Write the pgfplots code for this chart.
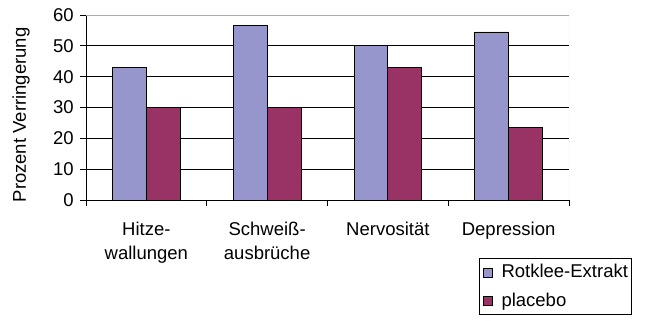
\documentclass[border=0pt]{standalone}
\usepackage{fontspec}
\setmainfont{Liberation Sans}
\usepackage{pgfplots}
\pgfplotsset{compat=1.18}
\definecolor{rotklee}{RGB}{150,150,204}
\definecolor{placebo}{RGB}{153,51,102}
\definecolor{frameblue}{RGB}{165,165,220}
\pgfplotsset{mylegend/.style={legend image code/.code={\draw[##1, draw=black, line width=0.9bp] (2bp,-4.5bp) rectangle (11bp,4.5bp);}}}
\begin{document}
\fontsize{18.5bp}{22bp}\selectfont
\begin{tikzpicture}[x=1bp,y=1bp]
\begin{axis}[
  scale only axis, width=483bp, height=185bp,
  ybar=0pt, bar width=0.28,
  xmin=-0.5, xmax=3.5, ymin=0, ymax=60,
  ytick={0,10,20,30,40,50,60},
  xtick={-0.5,0.5,1.5,2.5,3.5}, xticklabels={},
  extra x ticks={0,1,2,3},
  extra x tick labels={{Hitze-\\wallungen},{Schweiß-\\ausbrüche},{Nervosität},{Depression}},
  extra x tick style={major tick length=0pt, grid=none,
     xticklabel style={align=center, font=\fontsize{18.5bp}{24bp}\selectfont, yshift=-16bp}},
  axis x line*=bottom, axis y line*=left,
  axis line style={black, line width=0.9bp},
  tick align=outside, major tick length=6bp,
  tick style={black, line width=0.9bp},
  ymajorgrids, grid style={black, line width=0.9bp},
  /pgf/number format/assume math mode=true,
  ticklabel style={font=\fontsize{18.5bp}{22bp}\selectfont},
  ylabel={Prozent Verringerung},
  every axis y label/.style={at={(rel axis cs:0,0.46)}, xshift=-65bp, rotate=90, anchor=center,
     font=\fontsize{18.5bp}{22bp}\selectfont},
  legend style={at={(rel axis cs:0.814,-0.3135)}, anchor=north west, draw=black, line width=0.9bp,
     font=\fontsize{18.5bp}{22bp}\selectfont, row sep=8bp, inner xsep=3bp, inner ysep=4bp,
     column sep=2bp},
  legend cell align=left,
  legend style={nodes={inner xsep=0bp}, /tikz/every odd column/.style={column sep=9bp}},
]
\addplot[fill=rotklee, draw=black, line width=0.8bp, mylegend] coordinates {(0,43) (1,56.5) (2,50) (3,54.5)};
\addplot[fill=placebo, draw=black, line width=0.8bp, mylegend] coordinates {(0,30) (1,30) (2,43) (3,23.5)};
\legend{Rotklee-Extrakt, placebo}
\draw[frameblue, line width=1.2bp] (rel axis cs:0,1) -- (rel axis cs:1,1);
\draw[frameblue, line width=1bp, densely dotted] (rel axis cs:1,1) -- (rel axis cs:1,0);
\coordinate (O) at (rel axis cs:0,0);
\end{axis}
\pgfresetboundingbox
\useasboundingbox ([shift={(-86,-120)}]O) rectangle ([shift={(559,200)}]O);
\end{tikzpicture}
\end{document}
